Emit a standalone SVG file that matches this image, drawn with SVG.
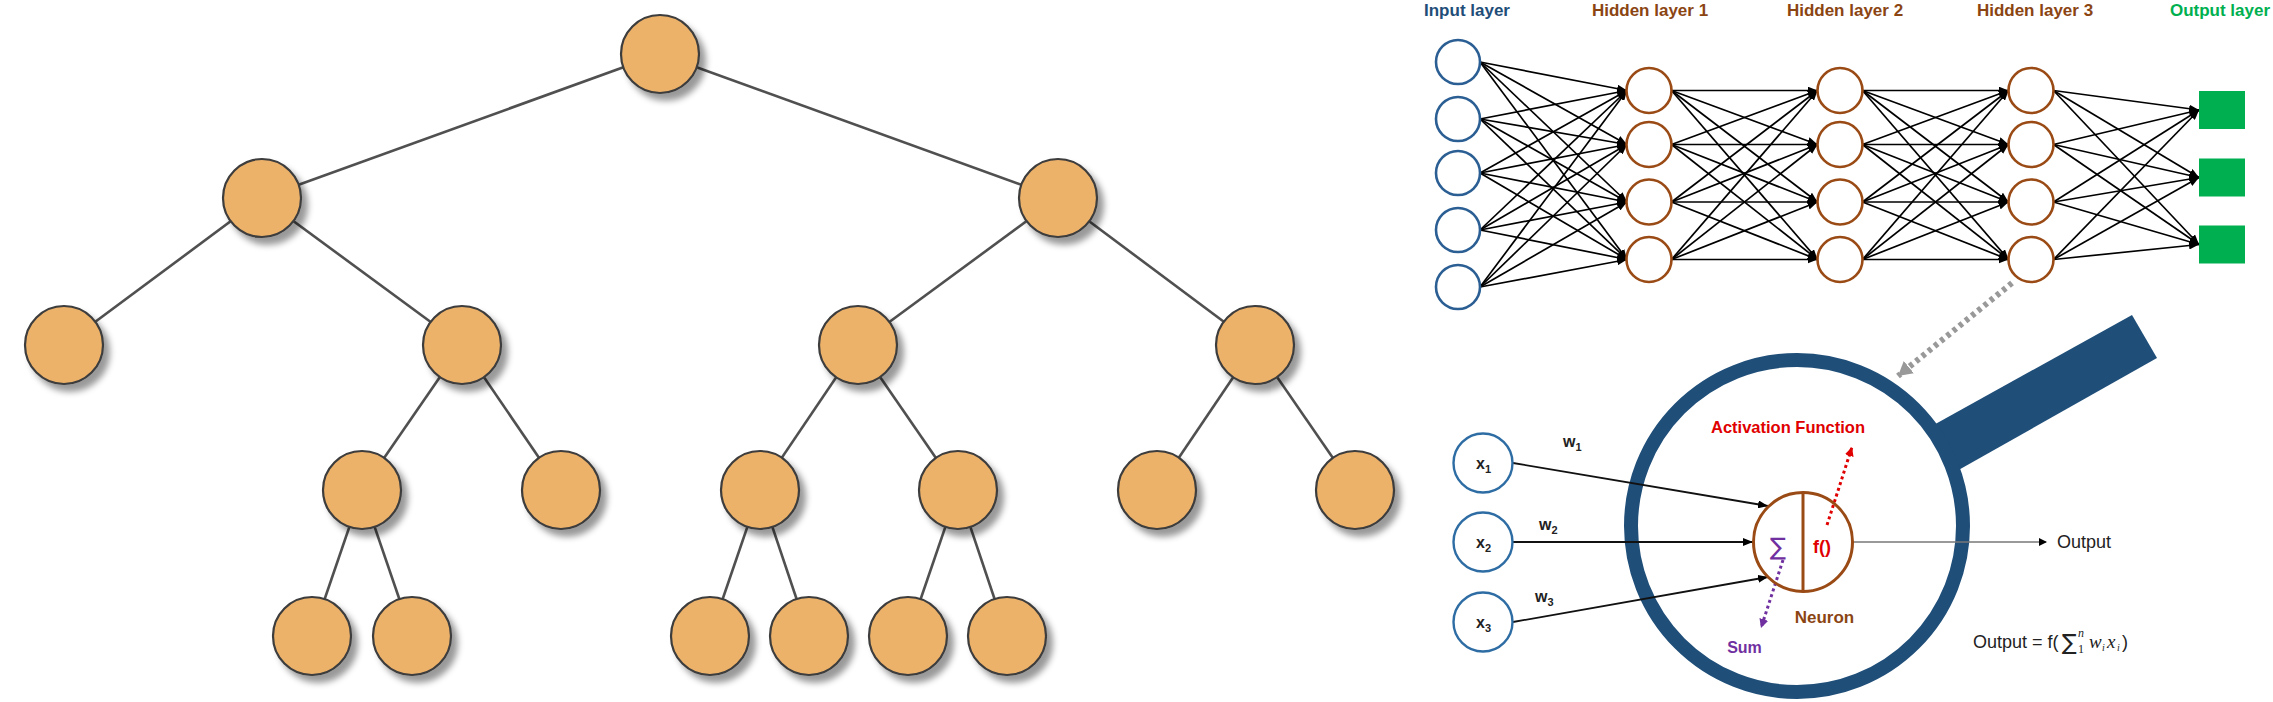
<svg xmlns="http://www.w3.org/2000/svg" width="2273" height="702" viewBox="0 0 2273 702">
<style>
.tn{fill:#EDB26B;stroke:#3c3c3c;stroke-width:2.2}
.te{stroke:#505050;stroke-width:2.6;fill:none}
.nl{stroke:#000;stroke-width:1.7;marker-end:url(#ah)}
.in{fill:#fff;stroke:#2B5F94;stroke-width:2.6}
.hn{fill:#fff;stroke:#9A4A14;stroke-width:2.6}
.on{fill:#00B050}
.lbl{font-family:"Liberation Sans",Arial,sans-serif;font-weight:bold;font-size:17px;text-anchor:middle}
.xn{fill:#fff;stroke:#2E6DA4;stroke-width:2.4}
.xl{font-family:"Liberation Sans",Arial,sans-serif;font-weight:bold;font-size:16px;fill:#222}
.sub{font-size:11px}
.wl{stroke:#111;stroke-width:1.8;marker-end:url(#ah)}
</style>
<defs>
<filter id="sh" x="-30%" y="-30%" width="170%" height="170%">
<feDropShadow dx="6" dy="7" stdDeviation="3" flood-color="#000" flood-opacity="0.4"/>
</filter>
<marker id="ah" markerUnits="userSpaceOnUse" markerWidth="10" markerHeight="8" refX="10" refY="4" orient="auto"><path d="M0,0 L10,4 L0,8 z" fill="#000"/></marker>
<marker id="ahr" markerUnits="userSpaceOnUse" markerWidth="10" markerHeight="9" refX="9" refY="4.5" orient="auto"><path d="M0,0 L9,4.5 L0,9 z" fill="#E00000"/></marker>
<marker id="ahp" markerUnits="userSpaceOnUse" markerWidth="10" markerHeight="9" refX="9" refY="4.5" orient="auto"><path d="M0,0 L9,4.5 L0,9 z" fill="#7030A0"/></marker>
<marker id="ahg" markerUnits="userSpaceOnUse" markerWidth="16" markerHeight="16" refX="14" refY="8" orient="auto"><path d="M0,0 L14,8 L0,16 z" fill="#999"/></marker>
</defs>
<rect width="2273" height="702" fill="#fff"/>

<!-- Tree connectors -->
<g id="tree-edges" class="te">
<line x1="660" y1="54" x2="262" y2="198"/>
<line x1="660" y1="54" x2="1058" y2="198"/>
<line x1="262" y1="198" x2="64" y2="345"/>
<line x1="262" y1="198" x2="462" y2="345"/>
<line x1="1058" y1="198" x2="858" y2="345"/>
<line x1="1058" y1="198" x2="1255" y2="345"/>
<line x1="462" y1="345" x2="362" y2="490"/>
<line x1="462" y1="345" x2="561" y2="490"/>
<line x1="858" y1="345" x2="760" y2="490"/>
<line x1="858" y1="345" x2="958" y2="490"/>
<line x1="1255" y1="345" x2="1157" y2="490"/>
<line x1="1255" y1="345" x2="1355" y2="490"/>
<line x1="362" y1="490" x2="312" y2="636"/>
<line x1="362" y1="490" x2="412" y2="636"/>
<line x1="760" y1="490" x2="710" y2="636"/>
<line x1="760" y1="490" x2="809" y2="636"/>
<line x1="958" y1="490" x2="908" y2="636"/>
<line x1="958" y1="490" x2="1007" y2="636"/>
</g>
<g id="tree-nodes" filter="url(#sh)">
<g id="t0"><circle class="tn" cx="660" cy="54" r="39"/></g>
<g id="t1"><circle class="tn" cx="262" cy="198" r="39"/></g>
<g id="t2"><circle class="tn" cx="1058" cy="198" r="39"/></g>
<g id="t3"><circle class="tn" cx="64" cy="345" r="39"/></g>
<g id="t4"><circle class="tn" cx="462" cy="345" r="39"/></g>
<g id="t5"><circle class="tn" cx="858" cy="345" r="39"/></g>
<g id="t6"><circle class="tn" cx="1255" cy="345" r="39"/></g>
<g id="t7"><circle class="tn" cx="362" cy="490" r="39"/></g>
<g id="t8"><circle class="tn" cx="561" cy="490" r="39"/></g>
<g id="t9"><circle class="tn" cx="760" cy="490" r="39"/></g>
<g id="t10"><circle class="tn" cx="958" cy="490" r="39"/></g>
<g id="t11"><circle class="tn" cx="1157" cy="490" r="39"/></g>
<g id="t12"><circle class="tn" cx="1355" cy="490" r="39"/></g>
<g id="t13"><circle class="tn" cx="312" cy="636" r="39"/></g>
<g id="t14"><circle class="tn" cx="412" cy="636" r="39"/></g>
<g id="t15"><circle class="tn" cx="710" cy="636" r="39"/></g>
<g id="t16"><circle class="tn" cx="809" cy="636" r="39"/></g>
<g id="t17"><circle class="tn" cx="908" cy="636" r="39"/></g>
<g id="t18"><circle class="tn" cx="1007" cy="636" r="39"/></g>
</g>

<!-- Network labels -->
<g id="layer-labels" class="lbl">
<text x="1467" y="16" fill="#1F4E79">Input layer</text>
<text x="1650" y="16" fill="#8B4513">Hidden layer 1</text>
<text x="1845" y="16" fill="#8B4513">Hidden layer 2</text>
<text x="2035" y="16" fill="#8B4513">Hidden layer 3</text>
<text x="2220" y="16" fill="#00B050">Output layer</text>
</g>

<!-- Network connectors -->
<g id="nn-edges">
<line class="nl" x1="1480" y1="62" x2="1627" y2="90.5"/><line class="nl" x1="1480" y1="62" x2="1627" y2="144.5"/><line class="nl" x1="1480" y1="62" x2="1627" y2="202"/><line class="nl" x1="1480" y1="62" x2="1627" y2="259.5"/>
<line class="nl" x1="1480" y1="119" x2="1627" y2="90.5"/><line class="nl" x1="1480" y1="119" x2="1627" y2="144.5"/><line class="nl" x1="1480" y1="119" x2="1627" y2="202"/><line class="nl" x1="1480" y1="119" x2="1627" y2="259.5"/>
<line class="nl" x1="1480" y1="173" x2="1627" y2="90.5"/><line class="nl" x1="1480" y1="173" x2="1627" y2="144.5"/><line class="nl" x1="1480" y1="173" x2="1627" y2="202"/><line class="nl" x1="1480" y1="173" x2="1627" y2="259.5"/>
<line class="nl" x1="1480" y1="230" x2="1627" y2="90.5"/><line class="nl" x1="1480" y1="230" x2="1627" y2="144.5"/><line class="nl" x1="1480" y1="230" x2="1627" y2="202"/><line class="nl" x1="1480" y1="230" x2="1627" y2="259.5"/>
<line class="nl" x1="1480" y1="287" x2="1627" y2="90.5"/><line class="nl" x1="1480" y1="287" x2="1627" y2="144.5"/><line class="nl" x1="1480" y1="287" x2="1627" y2="202"/><line class="nl" x1="1480" y1="287" x2="1627" y2="259.5"/>

<line class="nl" x1="1671.5" y1="90.5" x2="1817.5" y2="90.5"/><line class="nl" x1="1671.5" y1="90.5" x2="1817.5" y2="144.5"/><line class="nl" x1="1671.5" y1="90.5" x2="1817.5" y2="202"/><line class="nl" x1="1671.5" y1="90.5" x2="1817.5" y2="259.5"/>
<line class="nl" x1="1671.5" y1="144.5" x2="1817.5" y2="90.5"/><line class="nl" x1="1671.5" y1="144.5" x2="1817.5" y2="144.5"/><line class="nl" x1="1671.5" y1="144.5" x2="1817.5" y2="202"/><line class="nl" x1="1671.5" y1="144.5" x2="1817.5" y2="259.5"/>
<line class="nl" x1="1671.5" y1="202" x2="1817.5" y2="90.5"/><line class="nl" x1="1671.5" y1="202" x2="1817.5" y2="144.5"/><line class="nl" x1="1671.5" y1="202" x2="1817.5" y2="202"/><line class="nl" x1="1671.5" y1="202" x2="1817.5" y2="259.5"/>
<line class="nl" x1="1671.5" y1="259.5" x2="1817.5" y2="90.5"/><line class="nl" x1="1671.5" y1="259.5" x2="1817.5" y2="144.5"/><line class="nl" x1="1671.5" y1="259.5" x2="1817.5" y2="202"/><line class="nl" x1="1671.5" y1="259.5" x2="1817.5" y2="259.5"/>

<line class="nl" x1="1862.5" y1="90.5" x2="2008.5" y2="90.5"/><line class="nl" x1="1862.5" y1="90.5" x2="2008.5" y2="144.5"/><line class="nl" x1="1862.5" y1="90.5" x2="2008.5" y2="202"/><line class="nl" x1="1862.5" y1="90.5" x2="2008.5" y2="259.5"/>
<line class="nl" x1="1862.5" y1="144.5" x2="2008.5" y2="90.5"/><line class="nl" x1="1862.5" y1="144.5" x2="2008.5" y2="144.5"/><line class="nl" x1="1862.5" y1="144.5" x2="2008.5" y2="202"/><line class="nl" x1="1862.5" y1="144.5" x2="2008.5" y2="259.5"/>
<line class="nl" x1="1862.5" y1="202" x2="2008.5" y2="90.5"/><line class="nl" x1="1862.5" y1="202" x2="2008.5" y2="144.5"/><line class="nl" x1="1862.5" y1="202" x2="2008.5" y2="202"/><line class="nl" x1="1862.5" y1="202" x2="2008.5" y2="259.5"/>
<line class="nl" x1="1862.5" y1="259.5" x2="2008.5" y2="90.5"/><line class="nl" x1="1862.5" y1="259.5" x2="2008.5" y2="144.5"/><line class="nl" x1="1862.5" y1="259.5" x2="2008.5" y2="202"/><line class="nl" x1="1862.5" y1="259.5" x2="2008.5" y2="259.5"/>

<line class="nl" x1="2053.5" y1="90.5" x2="2199" y2="110"/><line class="nl" x1="2053.5" y1="90.5" x2="2199" y2="177.5"/><line class="nl" x1="2053.5" y1="90.5" x2="2199" y2="244.5"/>
<line class="nl" x1="2053.5" y1="144.5" x2="2199" y2="110"/><line class="nl" x1="2053.5" y1="144.5" x2="2199" y2="177.5"/><line class="nl" x1="2053.5" y1="144.5" x2="2199" y2="244.5"/>
<line class="nl" x1="2053.5" y1="202" x2="2199" y2="110"/><line class="nl" x1="2053.5" y1="202" x2="2199" y2="177.5"/><line class="nl" x1="2053.5" y1="202" x2="2199" y2="244.5"/>
<line class="nl" x1="2053.5" y1="259.5" x2="2199" y2="110"/><line class="nl" x1="2053.5" y1="259.5" x2="2199" y2="177.5"/><line class="nl" x1="2053.5" y1="259.5" x2="2199" y2="244.5"/>
</g>

<!-- Network nodes -->
<g id="input-layer">
<circle class="in" cx="1458" cy="62" r="22"/>
<circle class="in" cx="1458" cy="119" r="22"/>
<circle class="in" cx="1458" cy="173" r="22"/>
<circle class="in" cx="1458" cy="230" r="22"/>
<circle class="in" cx="1458" cy="287" r="22"/>
</g>
<g id="hidden-1">
<circle class="hn" cx="1649" cy="90.5" r="22.5"/>
<circle class="hn" cx="1649" cy="144.5" r="22.5"/>
<circle class="hn" cx="1649" cy="202" r="22.5"/>
<circle class="hn" cx="1649" cy="259.5" r="22.5"/>
</g>
<g id="hidden-2">
<circle class="hn" cx="1840" cy="90.5" r="22.5"/>
<circle class="hn" cx="1840" cy="144.5" r="22.5"/>
<circle class="hn" cx="1840" cy="202" r="22.5"/>
<circle class="hn" cx="1840" cy="259.5" r="22.5"/>
</g>
<g id="hidden-3">
<circle class="hn" cx="2031" cy="90.5" r="22.5"/>
<circle class="hn" cx="2031" cy="144.5" r="22.5"/>
<circle class="hn" cx="2031" cy="202" r="22.5"/>
<circle class="hn" cx="2031" cy="259.5" r="22.5"/>
</g>
<g id="output-layer">
<rect class="on" x="2199" y="91" width="46" height="38"/>
<rect class="on" x="2199" y="158.5" width="46" height="38"/>
<rect class="on" x="2199" y="225.5" width="46" height="38"/>
</g>

<!-- Zoom arrow -->
<g id="zoom-arrow">
<line x1="2012" y1="283" x2="1898" y2="376" stroke="#999" stroke-width="6" stroke-dasharray="4 4" marker-end="url(#ahg)"/>
</g>

<!-- Magnifier -->
<g id="magnifier">
<polygon points="1930,427 2132,315 2157,358 1955,472" fill="#1F4E79"/>
<circle cx="1797" cy="526" r="166" fill="none" stroke="#1F4E79" stroke-width="14"/>
</g>

<!-- Neuron connectors -->
<g id="neuron-edges">
<line class="wl" x1="1513" y1="463" x2="1768" y2="506"/>
<line class="wl" x1="1513" y1="542" x2="1753" y2="542"/>
<line class="wl" x1="1513" y1="622" x2="1768" y2="577"/>
<line x1="1853" y1="542" x2="2046" y2="542" stroke="#777" stroke-width="1.4"/>
<path d="M2047,542 L2039,538 L2039,546 z" fill="#000"/>
<line x1="1827" y1="525" x2="1852" y2="447" stroke="#E00000" stroke-width="3" stroke-dasharray="3 3" marker-end="url(#ahr)"/>
<line x1="1783" y1="560" x2="1761" y2="628" stroke="#7030A0" stroke-width="3" stroke-dasharray="3 3" marker-end="url(#ahp)"/>
</g>

<g id="x1"><circle class="xn" cx="1483" cy="463" r="29.5"/><text class="xl" x="1476" y="469">x<tspan class="sub" dy="4">1</tspan></text></g>
<g id="x2"><circle class="xn" cx="1483" cy="542" r="29.5"/><text class="xl" x="1476" y="548">x<tspan class="sub" dy="4">2</tspan></text></g>
<g id="x3"><circle class="xn" cx="1483" cy="622" r="29.5"/><text class="xl" x="1476" y="628">x<tspan class="sub" dy="4">3</tspan></text></g>

<g id="weights" class="xl">
<text x="1563" y="447">w<tspan class="sub" dy="4">1</tspan></text>
<text x="1539" y="530">w<tspan class="sub" dy="4">2</tspan></text>
<text x="1535" y="602">w<tspan class="sub" dy="4">3</tspan></text>
</g>

<g id="neuron">
<circle cx="1803" cy="542" r="49.5" fill="none" stroke="#9A4A14" stroke-width="3"/>
<line x1="1803" y1="492.5" x2="1803" y2="591.5" stroke="#9A4A14" stroke-width="3"/>
<text x="1778" y="555" font-family="'DejaVu Sans',sans-serif" font-size="24" fill="#7030A0" text-anchor="middle">∑</text>
<text x="1822" y="553" font-family="'Liberation Sans',Arial,sans-serif" font-size="18" font-weight="bold" fill="#E00000" text-anchor="middle">f()</text>
</g>

<g id="neuron-labels" font-family="'Liberation Sans',Arial,sans-serif" font-weight="bold" text-anchor="middle">
<text x="1788" y="433" font-size="16.5" fill="#E00000">Activation Function</text>
<text x="1824.5" y="623" font-size="17" fill="#8B4513">Neuron</text>
<text x="1744.5" y="653" font-size="16" fill="#7030A0">Sum</text>
</g>

<g id="output-labels" font-family="'Liberation Sans',Arial,sans-serif" font-size="18" fill="#222">
<text x="2057" y="548">Output</text>
<text x="1973" y="648">Output = f(</text>
<text x="2062" y="650" font-size="22" font-family="'DejaVu Sans',sans-serif">∑</text>
<text x="2078" y="637" font-size="12" font-family="'Liberation Serif',serif" font-style="italic">n</text>
<text x="2078" y="653" font-size="12" font-family="'Liberation Serif',serif">1</text>
<text x="2089" y="648" font-family="'Liberation Serif',serif" font-style="italic" font-size="19">w</text>
<text x="2102" y="651" font-family="'Liberation Serif',serif" font-style="italic" font-size="10">i</text>
<text x="2107" y="648" font-family="'Liberation Serif',serif" font-style="italic" font-size="19">x</text>
<text x="2117" y="651" font-family="'Liberation Serif',serif" font-style="italic" font-size="10">i</text>
<text x="2122" y="648">)</text>
</g>
</svg>
